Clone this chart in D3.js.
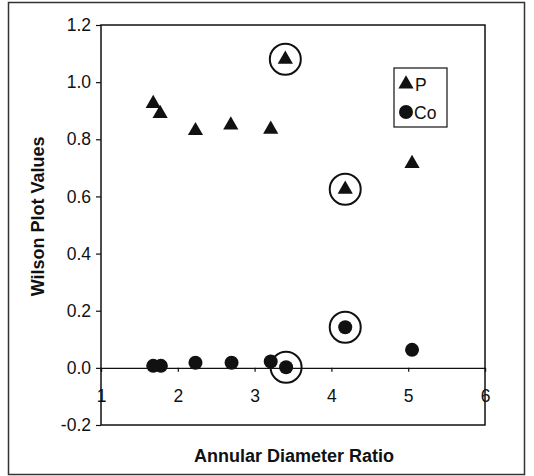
<!DOCTYPE html>
<html>
<head>
<meta charset="utf-8">
<script src="https://cdn.jsdelivr.net/npm/d3@7"></script>
<style>
    body { margin: 0; background: #fff; }
    svg { display: block; font-family: "Liberation Sans", Arial, sans-serif; }
</style>
</head>
<body>
<div id="chart"></div>
<script>
    "use strict";

    // Data
    var ratioP = [1.68, 1.77, 2.23, 2.69, 3.21, 3.40, 4.18, 5.05];
    var valuesP = [0.925, 0.89, 0.83, 0.85, 0.835, 1.08, 0.625, 0.715];
    var ratioCo = [1.68, 1.78, 2.23, 2.70, 3.21, 3.41, 4.18, 5.05];
    var valuesCo = [0.007, 0.007, 0.018, 0.018, 0.022, 0.002, 0.142, 0.063];
    var circledP = [false, false, false, false, false, true, true, false];
    var circledCo = [false, false, false, false, false, true, true, false];
    var xTicks = [1, 2, 3, 4, 5, 6];
    var yTicks = [-0.2, 0, 0.2, 0.4, 0.6, 0.8, 1.0, 1.2];

    var width = 534, height = 476;
    var margin = { left: 101, right: 49, top: 25, bottom: 51 };
    var ink = "#111";

    var svg = d3.select("#chart")
        .append("svg")
        .attr("width", width)
        .attr("height", height);

    // Outer frame of the figure
    svg.append("rect")
        .attr("x", 8.5).attr("y", 2.5)
        .attr("width", 516).attr("height", 472)
        .attr("fill", "none").attr("stroke", "#333").attr("stroke-width", 1.5);

    var x = d3.scaleLinear().domain([1, 6]).range([margin.left, width - margin.right]);
    var y = d3.scaleLinear().domain([-0.2, 1.2]).range([height - margin.bottom, margin.top]);

    // Plot area box
    svg.append("rect")
        .attr("x", x(1)).attr("y", y(1.2))
        .attr("width", x(6) - x(1)).attr("height", y(-0.2) - y(1.2))
        .attr("fill", "none").attr("stroke", ink).attr("stroke-width", 1.5);

    // Y axis
    var yAxis = svg.append("g")
        .attr("transform", "translate(" + x(1) + ",0)")
        .call(d3.axisLeft(y).tickValues(yTicks).tickSize(5).tickPadding(5)
            .tickFormat(d3.format(".1f")));
    yAxis.select(".domain").remove();
    yAxis.selectAll("line").attr("stroke", ink).attr("stroke-width", 1.2);
    yAxis.selectAll("text")
        .attr("fill", ink)
        .style("font-size", "17.5px")
        .text(function (d) { return d < 0 ? "-" + d3.format(".1f")(-d) : d3.format(".1f")(d); });

    // X axis sits on y = 0
    var xAxis = svg.append("g")
        .attr("transform", "translate(0," + y(0) + ")")
        .call(d3.axisBottom(x).tickValues(xTicks).tickSize(4).tickPadding(18)
            .tickFormat(d3.format("d")));
    xAxis.select(".domain").attr("stroke", ink).attr("stroke-width", 1.2);
    xAxis.selectAll("line").attr("stroke", ink).attr("stroke-width", 1.2);
    xAxis.selectAll("text").attr("fill", ink).style("font-size", "17.5px");

    // Axis titles
    svg.append("text")
        .attr("x", (x(1) + x(6)) / 2 + 1)
        .attr("y", 462)
        .attr("text-anchor", "middle")
        .attr("fill", ink)
        .style("font-size", "18px")
        .style("font-weight", "bold")
        .text("Annular Diameter Ratio");

    svg.append("text")
        .attr("transform", "translate(44," + y(0.53) + ") rotate(-90)")
        .attr("text-anchor", "middle")
        .attr("fill", ink)
        .style("font-size", "18px")
        .style("font-weight", "bold")
        .text("Wilson Plot Values");

    var triangle = d3.symbol().type(d3.symbolTriangle).size(100);

    var pData = ratioP.map(function (r, i) {
        return { x: r, y: valuesP[i], circled: circledP[i] };
    });
    var coData = ratioCo.map(function (r, i) {
        return { x: r, y: valuesCo[i], circled: circledCo[i] };
    });

    // Circled highlights
    var rings = pData.filter(function (d) { return d.circled; })
        .concat(coData.filter(function (d) { return d.circled; }));
    svg.selectAll(".ring")
        .data(rings)
        .enter()
        .append("circle")
        .attr("class", "ring")
        .attr("cx", function (d) { return x(d.x); })
        .attr("cy", function (d) { return y(d.y); })
        .attr("r", 15.5)
        .attr("fill", "none")
        .attr("stroke", ink)
        .attr("stroke-width", 2);

    // P series: triangles
    svg.selectAll(".p")
        .data(pData)
        .enter()
        .append("path")
        .attr("class", "p")
        .attr("d", triangle)
        .attr("transform", function (d) { return "translate(" + x(d.x) + "," + y(d.y) + ")"; })
        .attr("fill", ink);

    // Co series: dots
    svg.selectAll(".co")
        .data(coData)
        .enter()
        .append("circle")
        .attr("class", "co")
        .attr("cx", function (d) { return x(d.x); })
        .attr("cy", function (d) { return y(d.y); })
        .attr("r", 7)
        .attr("fill", ink);

    // Legend
    var legend = svg.append("g").attr("transform", "translate(394,68)");
    legend.append("rect")
        .attr("width", 53).attr("height", 59)
        .attr("fill", "#fff").attr("stroke", ink).attr("stroke-width", 1.2);
    legend.append("path")
        .attr("d", triangle)
        .attr("transform", "translate(12,16)")
        .attr("fill", ink);
    legend.append("text")
        .attr("x", 21).attr("y", 23)
        .attr("fill", ink).style("font-size", "17.5px")
        .text("P");
    legend.append("circle")
        .attr("cx", 12).attr("cy", 44).attr("r", 7)
        .attr("fill", ink);
    legend.append("text")
        .attr("x", 20).attr("y", 51)
        .attr("fill", ink).style("font-size", "17.5px")
        .text("Co");
</script>
</body>
</html>
